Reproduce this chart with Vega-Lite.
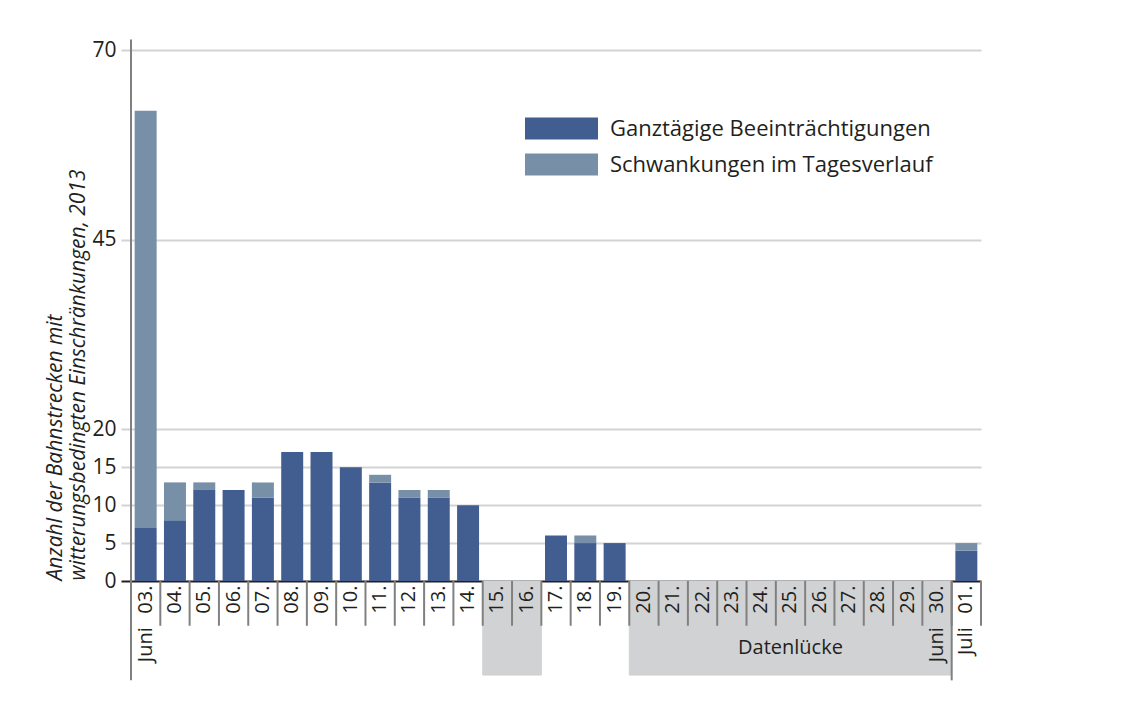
{
  "$schema": "https://vega.github.io/schema/vega-lite/v6.json",
  "width": 850,
  "height": 531,
  "autosize": {"type": "none"},
  "padding": {"left": 131, "top": 50, "right": 160, "bottom": 141},
  "background": "white",
  "config": {
    "font": "Open Sans",
    "view": {"stroke": null},
    "text": {"font": "Open Sans"}
  },
  "datasets": {
    "bars": [
      {"day": "03.", "typ": "Ganztägige Beeinträchtigungen", "wert": 7},
      {"day": "03.", "typ": "Schwankungen im Tagesverlauf", "wert": 55},
      {"day": "04.", "typ": "Ganztägige Beeinträchtigungen", "wert": 8},
      {"day": "04.", "typ": "Schwankungen im Tagesverlauf", "wert": 5},
      {"day": "05.", "typ": "Ganztägige Beeinträchtigungen", "wert": 12},
      {"day": "05.", "typ": "Schwankungen im Tagesverlauf", "wert": 1},
      {"day": "06.", "typ": "Ganztägige Beeinträchtigungen", "wert": 12},
      {"day": "07.", "typ": "Ganztägige Beeinträchtigungen", "wert": 11},
      {"day": "07.", "typ": "Schwankungen im Tagesverlauf", "wert": 2},
      {"day": "08.", "typ": "Ganztägige Beeinträchtigungen", "wert": 17},
      {"day": "09.", "typ": "Ganztägige Beeinträchtigungen", "wert": 17},
      {"day": "10.", "typ": "Ganztägige Beeinträchtigungen", "wert": 15},
      {"day": "11.", "typ": "Ganztägige Beeinträchtigungen", "wert": 13},
      {"day": "11.", "typ": "Schwankungen im Tagesverlauf", "wert": 1},
      {"day": "12.", "typ": "Ganztägige Beeinträchtigungen", "wert": 11},
      {"day": "12.", "typ": "Schwankungen im Tagesverlauf", "wert": 1},
      {"day": "13.", "typ": "Ganztägige Beeinträchtigungen", "wert": 11},
      {"day": "13.", "typ": "Schwankungen im Tagesverlauf", "wert": 1},
      {"day": "14.", "typ": "Ganztägige Beeinträchtigungen", "wert": 10},
      {"day": "17.", "typ": "Ganztägige Beeinträchtigungen", "wert": 6},
      {"day": "18.", "typ": "Ganztägige Beeinträchtigungen", "wert": 5},
      {"day": "18.", "typ": "Schwankungen im Tagesverlauf", "wert": 1},
      {"day": "19.", "typ": "Ganztägige Beeinträchtigungen", "wert": 5},
      {"day": "01.", "typ": "Ganztägige Beeinträchtigungen", "wert": 4},
      {"day": "01.", "typ": "Schwankungen im Tagesverlauf", "wert": 1}
    ],
    "days": [
      {"day": "03."}, {"day": "04."}, {"day": "05."}, {"day": "06."}, {"day": "07."},
      {"day": "08."}, {"day": "09."}, {"day": "10."}, {"day": "11."}, {"day": "12."},
      {"day": "13."}, {"day": "14."}, {"day": "15."}, {"day": "16."}, {"day": "17."},
      {"day": "18."}, {"day": "19."}, {"day": "20."}, {"day": "21."}, {"day": "22."},
      {"day": "23."}, {"day": "24."}, {"day": "25."}, {"day": "26."}, {"day": "27."},
      {"day": "28."}, {"day": "29."}, {"day": "30."}, {"day": "01."}
    ],
    "gaps": [
      {"day": "15."}, {"day": "16."}, {"day": "20."}, {"day": "21."}, {"day": "22."},
      {"day": "23."}, {"day": "24."}, {"day": "25."}, {"day": "26."}, {"day": "27."},
      {"day": "28."}, {"day": "29."}, {"day": "30."}
    ],
    "months": [
      {"day": "03.", "monat": "Juni"},
      {"day": "30.", "monat": "Juni"},
      {"day": "01.", "monat": "Juli"}
    ],
    "note": [{"day": "25.", "text": "Datenlücke"}]
  },
  "layer": [
    {
      "data": {"name": "gaps"},
      "mark": {"type": "rect", "color": "#d1d2d4", "stroke": "#d1d2d4", "strokeWidth": 1},
      "encoding": {
        "x": {"field": "day", "type": "nominal",
          "scale": {"domain": ["03.","04.","05.","06.","07.","08.","09.","10.","11.","12.","13.","14.","15.","16.","17.","18.","19.","20.","21.","22.","23.","24.","25.","26.","27.","28.","29.","30.","01."], "paddingInner": 0, "paddingOuter": 0}},
        "y": {"datum": 0, "type": "quantitative", "scale": {"domain": [0, 70]}},
        "y2": {"datum": -12.4}
      }
    },
    {
      "data": {"name": "bars"},
      "mark": {"type": "bar", "width": {"band": 0.75}},
      "encoding": {
        "x": {"field": "day", "type": "nominal",
          "scale": {"domain": ["03.","04.","05.","06.","07.","08.","09.","10.","11.","12.","13.","14.","15.","16.","17.","18.","19.","20.","21.","22.","23.","24.","25.","26.","27.","28.","29.","30.","01."], "paddingInner": 0, "paddingOuter": 0},
          "axis": {"title": null, "labelAngle": 270, "labelFontSize": 20, "labelColor": "#231f20", "labelPadding": 4, "labelOverlap": false, "ticks": false, "domain": false, "grid": false}},
        "y": {"field": "wert", "type": "quantitative", "stack": "zero",
          "scale": {"domain": [0, 70]},
          "axis": {
            "values": [0, 5, 10, 15, 20, 45, 70],
            "grid": true,
            "gridColor": {"condition": {"test": "datum.value === 0", "value": "#231f20"}, "value": "#d3d3d3"},
            "gridWidth": 2,
            "tickColor": {"condition": {"test": "datum.value === 0", "value": "#231f20"}, "value": "#d3d3d3"},
            "tickWidth": 2,
            "tickSize": 10,
            "domain": false,
            "labelFontSize": 21,
            "labelColor": "#231f20",
            "labelPadding": 5,
            "title": ["Anzahl der Bahnstrecken mit", "witterungsbedingten Einschränkungen, 2013"],
            "titleFontSize": 21,
            "titleFontStyle": "italic",
            "titleFontWeight": "normal",
            "titleColor": "#231f20",
            "titleAngle": 270,
            "titleAlign": "left",
            "titleBaseline": "top",
            "titleLineHeight": 23,
            "titleX": -87,
            "titleY": 530
          }},
        "color": {"field": "typ", "type": "nominal",
          "scale": {"domain": ["Ganztägige Beeinträchtigungen", "Schwankungen im Tagesverlauf"], "range": ["#425e91", "#788fa8"]},
          "legend": {"title": null, "orient": "none", "legendX": 412, "legendY": 60,
            "symbolType": "M-2,-0.6H2V0.6H-2Z", "symbolSize": 1332, "symbolStrokeWidth": 0,
            "labelFontSize": 22, "labelColor": "#231f20", "labelOffset": 30, "labelLimit": 500, "rowPadding": 6}},
        "order": {"field": "typ", "sort": "ascending"}
      }
    },
    {
      "data": {"name": "days"},
      "mark": {"type": "rule", "color": "#808080", "strokeWidth": 2},
      "encoding": {
        "x": {"field": "day", "type": "nominal", "bandPosition": 0,
          "scale": {"domain": ["03.","04.","05.","06.","07.","08.","09.","10.","11.","12.","13.","14.","15.","16.","17.","18.","19.","20.","21.","22.","23.","24.","25.","26.","27.","28.","29.","30.","01."], "paddingInner": 0, "paddingOuter": 0}},
        "y": {"datum": 0, "type": "quantitative", "scale": {"domain": [0, 70]}},
        "y2": {"datum": -5.9}
      }
    },
    {
      "data": {"values": [{"day": "01."}]},
      "mark": {"type": "rule", "color": "#808080", "strokeWidth": 2},
      "encoding": {
        "x": {"field": "day", "type": "nominal", "bandPosition": 1,
          "scale": {"domain": ["03.","04.","05.","06.","07.","08.","09.","10.","11.","12.","13.","14.","15.","16.","17.","18.","19.","20.","21.","22.","23.","24.","25.","26.","27.","28.","29.","30.","01."], "paddingInner": 0, "paddingOuter": 0}},
        "y": {"datum": 0, "type": "quantitative", "scale": {"domain": [0, 70]}},
        "y2": {"datum": -5.9}
      }
    },
    {
      "data": {"values": [{"day": "01."}]},
      "mark": {"type": "rule", "color": "#808080", "strokeWidth": 2},
      "encoding": {
        "x": {"field": "day", "type": "nominal", "bandPosition": 0,
          "scale": {"domain": ["03.","04.","05.","06.","07.","08.","09.","10.","11.","12.","13.","14.","15.","16.","17.","18.","19.","20.","21.","22.","23.","24.","25.","26.","27.","28.","29.","30.","01."], "paddingInner": 0, "paddingOuter": 0}},
        "y": {"datum": 0, "type": "quantitative", "scale": {"domain": [0, 70]}},
        "y2": {"datum": -13.1}
      }
    },
    {
      "data": {"values": [{"day": "03."}]},
      "mark": {"type": "rule", "color": "#808080", "strokeWidth": 2},
      "encoding": {
        "x": {"field": "day", "type": "nominal", "bandPosition": 0,
          "scale": {"domain": ["03.","04.","05.","06.","07.","08.","09.","10.","11.","12.","13.","14.","15.","16.","17.","18.","19.","20.","21.","22.","23.","24.","25.","26.","27.","28.","29.","30.","01."], "paddingInner": 0, "paddingOuter": 0}},
        "y": {"datum": 71.4, "type": "quantitative", "scale": {"domain": [0, 70]}},
        "y2": {"datum": -13.1}
      }
    },
    {
      "data": {"name": "months"},
      "mark": {"type": "text", "angle": 270, "align": "right", "baseline": "middle", "fontSize": 20, "color": "#231f20"},
      "encoding": {
        "x": {"field": "day", "type": "nominal",
          "scale": {"domain": ["03.","04.","05.","06.","07.","08.","09.","10.","11.","12.","13.","14.","15.","16.","17.","18.","19.","20.","21.","22.","23.","24.","25.","26.","27.","28.","29.","30.","01."], "paddingInner": 0, "paddingOuter": 0}},
        "y": {"datum": -6.1, "type": "quantitative", "scale": {"domain": [0, 70]}},
        "text": {"field": "monat"}
      }
    },
    {
      "data": {"name": "note"},
      "mark": {"type": "text", "align": "center", "baseline": "middle", "fontSize": 20, "color": "#231f20"},
      "encoding": {
        "x": {"field": "day", "type": "nominal",
          "scale": {"domain": ["03.","04.","05.","06.","07.","08.","09.","10.","11.","12.","13.","14.","15.","16.","17.","18.","19.","20.","21.","22.","23.","24.","25.","26.","27.","28.","29.","30.","01."], "paddingInner": 0, "paddingOuter": 0}},
        "y": {"datum": -8.8, "type": "quantitative", "scale": {"domain": [0, 70]}},
        "text": {"field": "text"}
      }
    }
  ]
}
